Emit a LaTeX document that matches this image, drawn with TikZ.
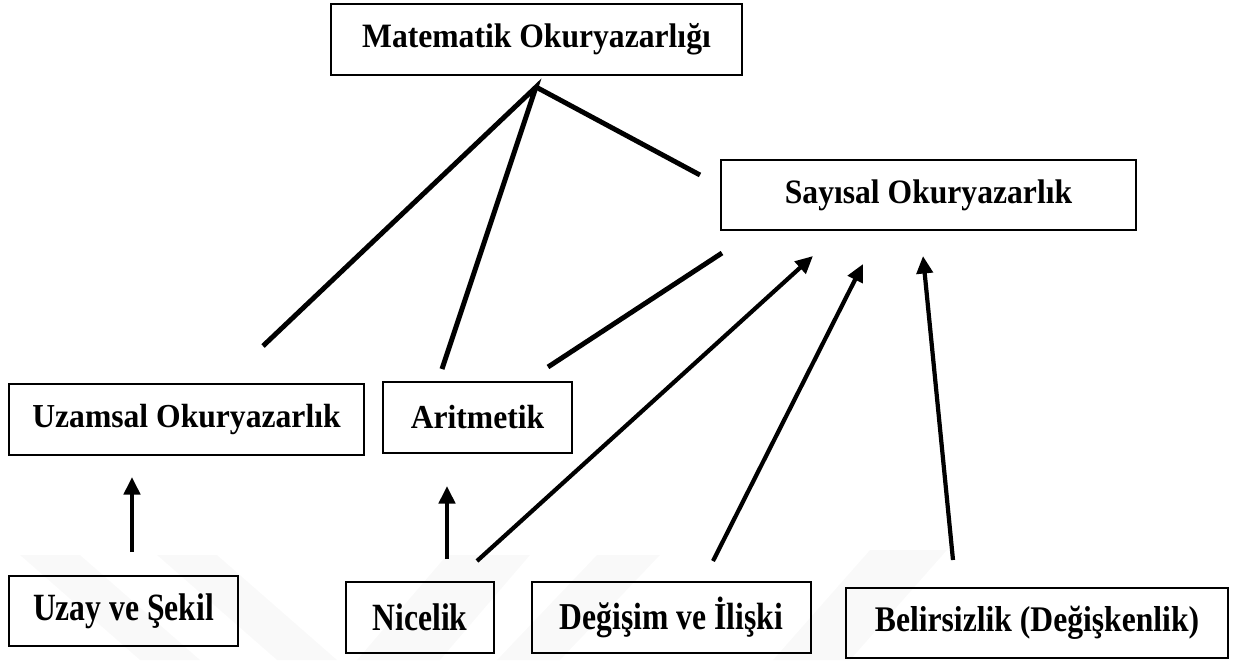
\documentclass[tikz,border=0pt]{standalone}
\usepackage{fontspec}
\setmainfont{Liberation Serif}
\usetikzlibrary{arrows.meta}

\begin{document}
\begin{tikzpicture}[x=0.02cm, y=-0.02cm, >={Triangle[length=3.5mm, width=3.2mm]},
    box/.style={draw, line width=1.1pt, inner sep=0pt, minimum height=1.42cm,
        font=\fontsize{18}{22}\selectfont\bfseries},
    link/.style={line width=2.8pt},
    up/.style={->, line width=2.4pt}]
    \useasboundingbox (0,0) rectangle (1242,660);

    % faint watermark bands
    \fill[gray!5] (20,555) -- (80,555) -- (200,660) -- (140,660) -- cycle;
    \fill[gray!5] (157,555) -- (217,555) -- (337,660) -- (277,660) -- cycle;
    \fill[gray!5] (447,555) -- (530,555) -- (440,660) -- (357,660) -- cycle;
    \fill[gray!5] (597,555) -- (660,555) -- (560,660) -- (497,660) -- cycle;
    \fill[gray!5] (870,550) -- (947,550) -- (850,660) -- (773,660) -- cycle;

    % boxes
    \node[box, minimum width=8.22cm] (mat) at (536.5,39.5) {\scalebox{1}[1.08]{Matematik Okuryazarlığı}\hspace{0.36cm}};
    \node[box, minimum width=8.30cm, minimum height=1.40cm] (say) at (928.5,195) {\scalebox{1}[1.08]{Sayısal Okuryazarlık}};
    \node[box, minimum width=7.10cm] (uza) at (186.5,419.5) {\scalebox{1}[1.06]{Uzamsal Okuryazarlık}};
    \node[box, minimum width=3.78cm] (ari) at (477.5,417.5) {\scalebox{1}[1.06]{Aritmetik}\hspace{0.24cm}};
    \node[box, minimum width=4.58cm, minimum height=1.40cm] (uzs) at (123.5,611) {\scalebox{1}[1.22]{Uzay ve Şekil}};
    \node[box, minimum width=2.96cm] (nic) at (420,617.5) {\scalebox{1}[1.22]{Nicelik}\hspace{0.2cm}};
    \node[box, minimum width=5.58cm] (deg) at (671.5,617.5) {\scalebox{1}[1.2]{Değişim ve İlişki}};
    \node[box, minimum width=7.64cm, minimum height=1.40cm] (bel) at (1037,623) {\scalebox{1}[1.14]{Belirsizlik (Değişkenlik)}};

    % free ends of the connectors
    \coordinate (apex) at (536,87);
    \coordinate (uzaTop) at (263,346);
    \coordinate (ariTop) at (442,369);
    \coordinate (sayLeft) at (700,175);
    \coordinate (sayOut) at (722,253);
    \coordinate (ariRight) at (548,367);
    \coordinate (uzaBot) at (132,477);
    \coordinate (uzsTop) at (132,552);
    \coordinate (ariBot) at (447,486);
    \coordinate (nicTop) at (447,559);
    \coordinate (nicOut) at (477,561);
    \coordinate (degOut) at (713,561);
    \coordinate (belOut) at (953,560);
    \coordinate (sayA) at (813,256);
    \coordinate (sayB) at (863,264);
    \coordinate (sayC) at (923,256);

    % connectors
    \draw[link] (uzaTop) -- (apex) -- (ariTop);
    \draw[link] (apex) -- (sayLeft);
    \draw[link] (sayOut) -- (ariRight);
    \draw[up] (uzsTop) -- (uzaBot);
    \draw[up] (nicTop) -- (ariBot);
    \draw[up] (nicOut) -- (sayA);
    \draw[up] (degOut) -- (sayB);
    \draw[up] (belOut) -- (sayC);
\end{tikzpicture}
\end{document}
